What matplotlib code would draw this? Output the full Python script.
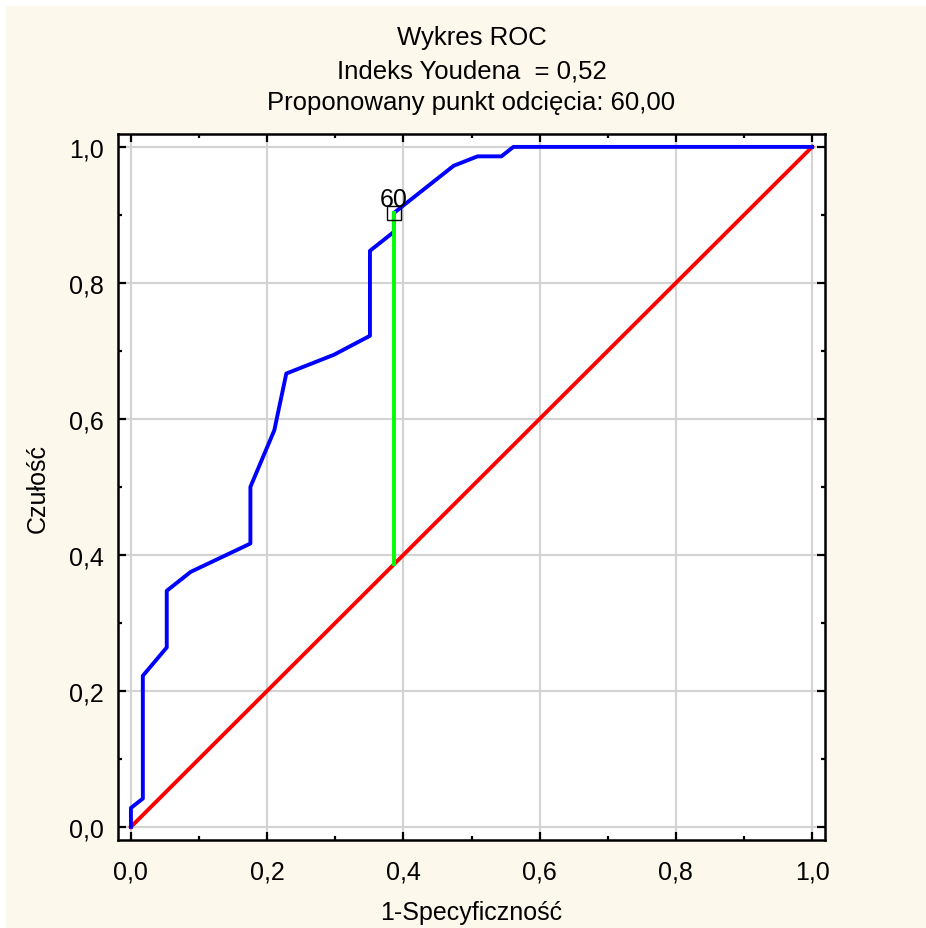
import numpy as np
import matplotlib
matplotlib.use("Agg")
from matplotlib import pyplot as plt
from matplotlib.patches import Rectangle
from matplotlib.ticker import MultipleLocator

plt.rcParams['font.family'] = ['Liberation Sans', 'DejaVu Sans']

# ROC curve (1-specificity, sensitivity)
fpr = [0.0, 0.0, 0.0175, 0.0175, 0.0526, 0.0526, 0.0877, 0.1754, 0.1754,
       0.2105, 0.2281, 0.2982, 0.3509, 0.3509, 0.386, 0.386, 0.4737,
       0.5088, 0.5439, 0.5614, 1.0]
tpr = [0.0, 0.0278, 0.0417, 0.2222, 0.2639, 0.3472, 0.375, 0.4167, 0.5,
       0.5833, 0.6667, 0.6944, 0.7222, 0.8472, 0.875, 0.9028, 0.9722,
       0.9861, 0.9861, 1.0, 1.0]
diag = [0.0, 1.0]

cut_x = 0.386
cut_y = 0.9028
cut_label = "60"
youden = 0.52
cutoff = "60,00"

fig = plt.figure(figsize=(9.26, 9.29), dpi=100)
fig.patch.set_facecolor('white')
fig.patches.append(Rectangle((6 / 926, 0), 1, 1 - 7 / 929, transform=fig.transFigure,
                             facecolor='#FDF8EC', edgecolor='none', zorder=-10))

ax = fig.add_axes([0.1274, 0.0942, 0.891 - 0.1274, 0.8547 - 0.0942])
ax.set_facecolor('white')

ax.plot(diag, diag, color='#FF0000', lw=2.8, zorder=3)
ax.plot(fpr, tpr, color='#0000FF', lw=2.8, zorder=4)
ax.plot([cut_x, cut_x], [cut_x, cut_y], color='#00FF00', lw=2.8, zorder=5)
ax.plot([cut_x], [cut_y], marker='s', ms=9.5, mfc='none', mec='black', mew=1.0, zorder=6)
ax.text(cut_x, cut_y + 0.021, cut_label, ha='center', va='center', fontsize=18, zorder=7)

ax.set_xlim(-0.019, 1.019)
ax.set_ylim(-0.02, 1.019)
ax.xaxis.set_major_locator(MultipleLocator(0.2))
ax.yaxis.set_major_locator(MultipleLocator(0.2))
ax.xaxis.set_minor_locator(MultipleLocator(0.1))
ax.yaxis.set_minor_locator(MultipleLocator(0.1))
fmt = lambda v, p: ("%.1f" % v).replace('.', ',')
ax.xaxis.set_major_formatter(plt.FuncFormatter(fmt))
ax.yaxis.set_major_formatter(plt.FuncFormatter(fmt))
ax.tick_params(which='both', direction='in', top=True, right=True, width=1.6)
ax.tick_params(which='major', length=6, labelsize=18)
ax.tick_params(which='minor', length=3)
ax.tick_params(axis='x', which='major', pad=14)
ax.tick_params(axis='y', which='major', pad=10)
for s in ax.spines.values():
    s.set_linewidth(1.8)

ax.grid(True, which='major', color='#D3D3D3', lw=1.5, zorder=1)
ax.set_axisbelow(True)

ax.set_xlabel("1-Specyficzność", fontsize=18, va='center')
ax.xaxis.set_label_coords(0.5, -0.101)
ax.set_ylabel("Czułość", fontsize=18, va='center')
ax.yaxis.set_label_coords(-0.113, 0.5)

cx = (0.1274 + 0.891) / 2
fig.text(cx, 1 - 38 / 929, "Wykres ROC", ha='center', va='center', fontsize=18.5)
fig.text(cx, 1 - 71 / 929, "Indeks Youdena  = " + ("%.2f" % youden).replace('.', ','),
         ha='center', va='center', fontsize=18.5)
fig.text(cx, 1 - 103 / 929, "Proponowany punkt odcięcia: " + cutoff,
         ha='center', va='center', fontsize=18.5)

fig.savefig("out.png", dpi=100, facecolor=fig.get_facecolor())
